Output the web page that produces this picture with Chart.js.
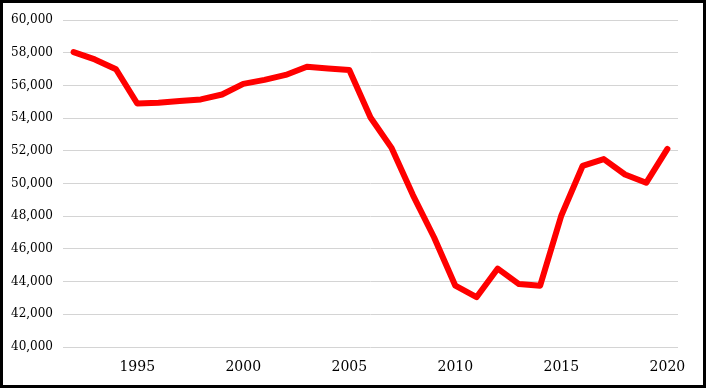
<!DOCTYPE html>
<html>
<head>
<meta charset="utf-8">
<script src="https://cdn.jsdelivr.net/npm/chart.js@4"></script>
<style>
  html, body { margin: 0; padding: 0; background: #fff; }
  #wrap { width: 706px; height: 388px; box-sizing: border-box; border: 3px solid #000; background: #fff; }
</style>
</head>
<body>
<div id="wrap"><canvas id="chart" width="700" height="382"></canvas></div>
<script>
const years = [1992, 1993, 1994, 1995, 1996, 1997, 1998, 1999, 2000, 2001, 2002, 2003, 2004, 2005, 2006,
    2007, 2008, 2009, 2010, 2011, 2012, 2013, 2014, 2015, 2016, 2017, 2018, 2019, 2020];
const values = [58050, 57600, 57000, 54900, 54950, 55050, 55150, 55450, 56100, 56350, 56650, 57150, 57050, 56950, 54050,
    52170, 49300, 46700, 43750, 43050, 44800, 43850, 43750, 48050, 51080, 51500, 50560, 50050, 52120];
const yMin = 40000;
const yMax = 60000;
const yStep = 2000;

document.addEventListener("DOMContentLoaded", function () {
    const ctx = document.getElementById('chart').getContext('2d');
    new Chart(ctx, {
        type: 'line',
        data: {
            labels: years,
            datasets: [{
                data: values,
                borderColor: '#ff0000',
                borderWidth: 6,
                borderCapStyle: 'round',
                borderJoinStyle: 'round',
                pointRadius: 0,
                tension: 0,
                fill: false
            }]
        },
        options: {
            responsive: false,
            animation: false,
            layout: { padding: { top: 14, right: 25, bottom: 0, left: 0 } },
            plugins: { legend: { display: false }, tooltip: { enabled: false } },
            scales: {
                x: {
                    offset: true,
                    grid: { display: false, drawTicks: false },
                    border: { display: false },
                    ticks: {
                        autoSkip: false,
                        maxRotation: 0,
                        padding: 12,
                        color: '#000',
                        font: { family: 'DejaVu Serif', size: 14 },
                        callback: function (v, i) {
                            const y = years[i];
                            return y % 5 === 0 ? String(y) : '';
                        }
                    },
                    afterFit: function (s) { s.height = 38; }
                },
                y: {
                    min: yMin,
                    max: yMax,
                    grid: { color: '#d4d4d4', lineWidth: 1, drawTicks: false },
                    border: { display: false },
                    ticks: {
                        stepSize: yStep,
                        padding: 10,
                        color: '#000',
                        font: { family: 'DejaVu Serif', size: 12 },
                        callback: function (v) { return v.toLocaleString('en-US'); }
                    },
                    afterFit: function (s) { s.width = 60; }
                }
            }
        }
    });
});
</script>
</body>
</html>
